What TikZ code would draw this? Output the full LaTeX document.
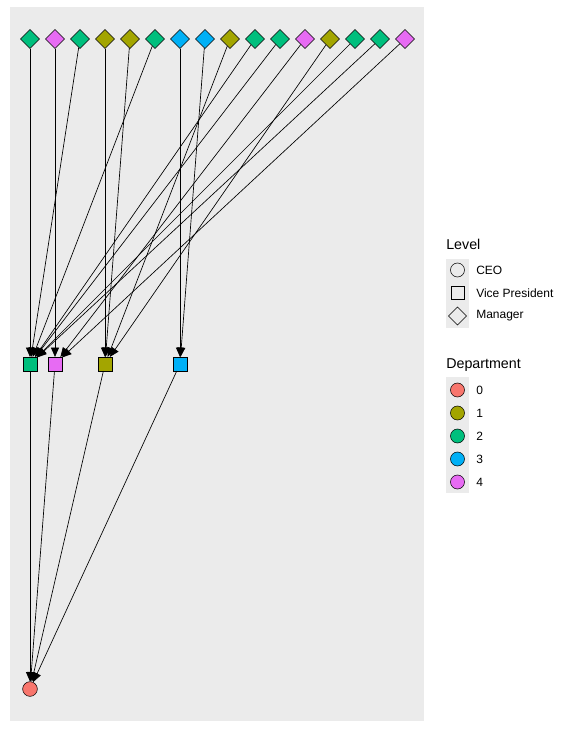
\documentclass[tikz,border=0pt]{standalone}
\usepackage{fontspec}
\setmainfont{Liberation Sans}
\usetikzlibrary{arrows.meta}
\usetikzlibrary{shapes.geometric}

\definecolor{dept0}{HTML}{F8766D}
\definecolor{dept1}{HTML}{A3A500}
\definecolor{dept2}{HTML}{00BF7D}
\definecolor{dept3}{HTML}{00B0F6}
\definecolor{dept4}{HTML}{E76BF3}
\definecolor{panelgray}{HTML}{EBEBEB}
\definecolor{keygray}{HTML}{EBEBEB}

\tikzset{
    manager/.style={diamond,draw,inner sep=0pt,minimum size=14.3pt},
    vicepres/.style={rectangle,draw,inner sep=0pt,minimum size=10.2pt},
    chief/.style={circle,draw,inner sep=0pt,minimum size=11pt},
    legtitle/.style={anchor=west,inner sep=0pt,font=\fontsize{10.7}{12}\selectfont},
    leglabel/.style={anchor=west,inner sep=0pt,font=\fontsize{9}{10}\selectfont},
}

\begin{document}
\begin{tikzpicture}[x=0.75pt,y=-0.75pt]
    \useasboundingbox (0,0) rectangle (568,733);
    \fill[panelgray] (10,7) rectangle (424,721);

    % nodes
    \node[chief,fill=dept0] (ceo) at (30,689) {};
    \node[vicepres,fill=dept2] (vp2) at (30,364) {};
    \node[vicepres,fill=dept4] (vp4) at (55,364) {};
    \node[vicepres,fill=dept1] (vp1) at (105,364) {};
    \node[vicepres,fill=dept3] (vp3) at (180,364) {};
    \foreach \i/\d in {1/2,2/4,3/2,4/1,5/1,6/2,7/3,8/3,9/1,10/2,11/2,12/4,13/1,14/2,15/2,16/4}{
        \node[manager,fill=dept\d] (m\i) at (5+25*\i,39) {};
    }

    % reporting lines
    \begin{scope}[>={Triangle[length=7pt,width=6pt]},
            every edge/.style={draw=black,line width=0.5pt}]
        \foreach \i/\d in {1/2,2/4,3/2,4/1,5/1,6/2,7/3,8/3,9/1,10/2,11/2,12/4,13/1,14/2,15/2,16/4}{
            \path [->] (m\i) edge (vp\d);
        }
        \foreach \d in {1,2,3,4}{
            \path [->] (vp\d) edge (ceo);
        }
    \end{scope}

    % legend: level
    \node[legtitle] (leveltitle) at (446,244) {Level};
    \fill[keygray] (446,259) rectangle (469,328);
    \node[chief,minimum size=10.5pt] (keyceo) at (457.5,270) {};
    \node[vicepres,minimum size=9.8pt] (keyvp) at (457.5,293) {};
    \node[manager,minimum size=13.5pt] (keymgr) at (457.5,316) {};
    \node[leglabel] (labceo) at (476,270) {CEO};
    \node[leglabel] (labvp) at (476,293) {Vice President};
    \node[leglabel] (labmgr) at (476,316) {Manager};

    % legend: department
    \node[legtitle] (depttitle) at (446,365) {Department};
    \fill[keygray] (446,377) rectangle (469,493);
    \foreach \d in {0,1,2,3,4}{
        \node[chief,minimum size=10.5pt,fill=dept\d] (keyd\d) at (457.5,390+23*\d) {};
        \node[leglabel] (labd\d) at (476,390+23*\d) {\d};
    }
\end{tikzpicture}
\end{document}
